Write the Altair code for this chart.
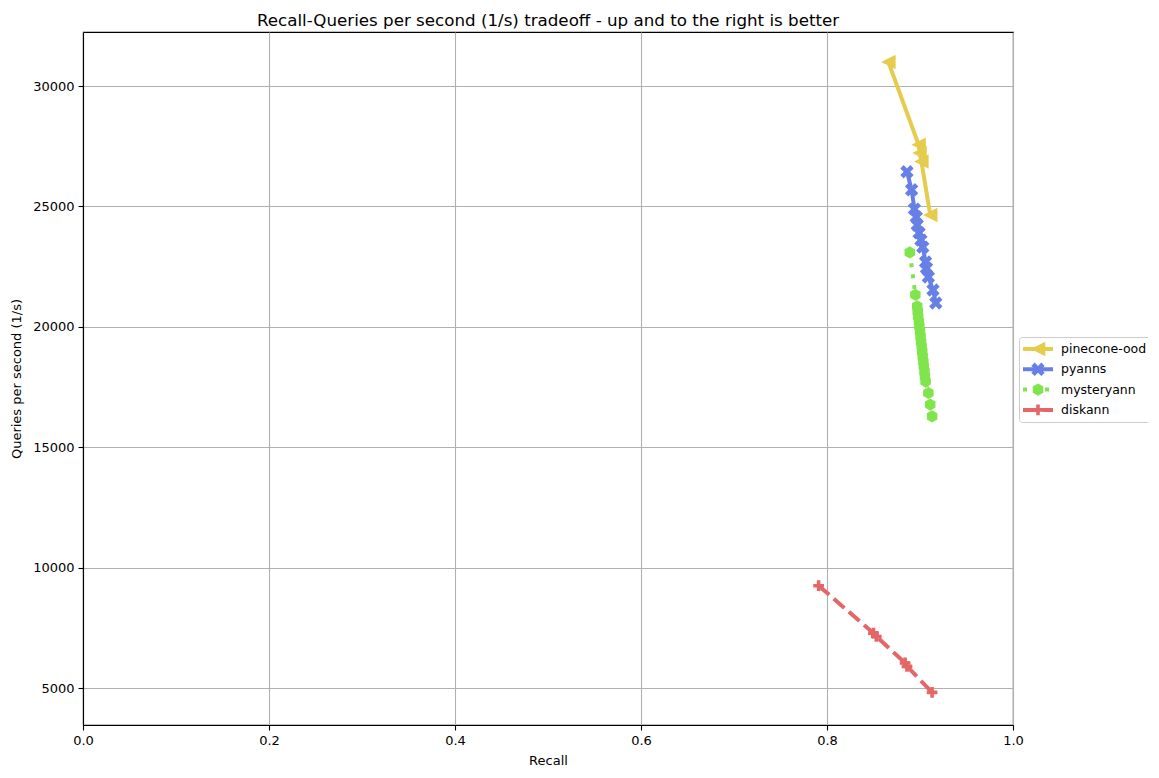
import altair as alt
import pandas as pd

series_names = ["pinecone-ood", "pyanns", "mysteryann", "diskann"]
series_colors = ["#E5CC4D", "#6680E5", "#80E54D", "#E56666"]

pinecone_recall = [0.866, 0.8985, 0.8995, 0.9015, 0.911]
pinecone_qps = [31000, 27560, 27220, 26870, 24640]

pyanns_recall = [0.886, 0.891, 0.894, 0.896, 0.897, 0.899, 0.901, 0.903, 0.906, 0.907, 0.909, 0.914, 0.917]
pyanns_qps = [26440, 25690, 24890, 24560, 24230, 23900, 23600, 23310, 22690, 22440, 22070, 21530, 20990]

mystery_recall = [0.889, 0.895, 0.897, 0.8975, 0.898, 0.8988, 0.8993, 0.9, 0.9006, 0.9011, 0.9018,
                  0.9024, 0.9029, 0.9036, 0.9041, 0.9048, 0.9053, 0.906, 0.909, 0.911, 0.913]
mystery_qps = [23090, 21330, 20850, 20640, 20430, 20220, 20020, 19810, 19600, 19390, 19190,
               18980, 18770, 18560, 18350, 18150, 17940, 17730, 17250, 16770, 16280]

diskann_recall = [0.791, 0.850, 0.853, 0.884, 0.886, 0.913]
diskann_qps = [9250, 7280, 7140, 6040, 5900, 4820]

x_ticks = [0.0, 0.2, 0.4, 0.6, 0.8, 1.0]
y_ticks = [5000, 10000, 15000, 20000, 25000, 30000]

rows = []
for name, rec, qps in [
    ("pinecone-ood", pinecone_recall, pinecone_qps),
    ("pyanns", pyanns_recall, pyanns_qps),
    ("mysteryann", mystery_recall, mystery_qps),
    ("diskann", diskann_recall, diskann_qps),
]:
    for i, (r, q) in enumerate(zip(rec, qps)):
        rows.append({"series": name, "recall": r, "qps": q, "idx": i})
df = pd.DataFrame(rows)

FONT = "DejaVu Sans"

tri_left = "M-1,0L1,-1L1,1Z"
x_filled = "M0.5,-1L1,-0.5L0.5,0L1,0.5L0.5,1L0,0.5L-0.5,1L-1,0.5L-0.5,0L-1,-0.5L-0.5,-1L0,-0.5Z"
hexagon = "M0,-1L0.866,-0.5L0.866,0.5L0,1L-0.866,0.5L-0.866,-0.5Z"
plus_filled = "M-1,-0.333H-0.333V-1H0.333V-0.333H1V0.333H0.333V1H-0.333V0.333H-1Z"

x_enc = alt.X("recall:Q", title="Recall",
              scale=alt.Scale(domain=[0, 1], nice=False, zero=False),
              axis=alt.Axis(values=x_ticks, format=".1f", labelFlush=False))
y_enc = alt.Y("qps:Q", title="Queries per second (1/s)",
              scale=alt.Scale(domain=[3464, 32243], nice=False, zero=False),
              axis=alt.Axis(values=y_ticks, format="d", labelFlush=False))

line_legend = alt.Legend(
    title=None, orient="none", legendX=936, legendY=305,
    symbolType="stroke", symbolSize=900, symbolStrokeWidth=4,
    clipHeight=16, rowPadding=4.3, labelFont=FONT, labelFontSize=12.5,
    labelColor="black", labelOffset=6, padding=4,
    strokeColor="#cccccc", fillColor="white", cornerRadius=3, zindex=1,
    symbolOffset=-2,
)
point_legend = alt.Legend(
    title=None, orient="none", legendX=936, legendY=305,
    clipHeight=16, rowPadding=4.3, labelFont=FONT, labelFontSize=12.5,
    labelOpacity=0, labelExpr="''", labelOffset=6, padding=4, symbolStrokeWidth=0,
    zindex=2, symbolOffset=7.5,
)

lines = alt.Chart(df).mark_line(strokeWidth=4, strokeCap="butt").encode(
    x=x_enc, y=y_enc,
    color=alt.Color("series:N", scale=alt.Scale(domain=series_names, range=series_colors),
                    legend=line_legend),
    strokeDash=alt.StrokeDash("series:N",
                              scale=alt.Scale(domain=series_names,
                                              range=[[1, 0], [1, 0], [4, 7], [14, 6]]),
                              legend=line_legend),
    detail="series:N",
    order="idx:Q",
)

points = alt.Chart(df).mark_point(filled=True, opacity=1, strokeWidth=0).encode(
    x=x_enc, y=y_enc,
    color=alt.Color("series:N", scale=alt.Scale(domain=series_names, range=series_colors),
                    legend=point_legend),
    shape=alt.Shape("series:N",
                    scale=alt.Scale(domain=series_names,
                                    range=[tri_left, x_filled, hexagon, plus_filled]),
                    legend=point_legend),
    size=alt.Size("series:N", scale=alt.Scale(domain=series_names, range=[210, 115, 125, 100]),
                  legend=point_legend),
)

chart = alt.layer(lines, points).resolve_scale(
    color="independent", strokeDash="independent", shape="independent", size="independent"
).properties(
    width=930, height=693,
    title=alt.TitleParams(
        text="Recall-Queries per second (1/s) tradeoff - up and to the right is better",
        font=FONT, fontSize=16.7, fontWeight="normal", color="black",
        anchor="middle", baseline="alphabetic", offset=8, dy=19,
    ),
    autosize=alt.AutoSizeParams(type="none"),
    padding={"left": 75, "top": 24, "right": 135, "bottom": 45},
).configure_view(
    stroke="black", strokeWidth=1.1
).configure_axis(
    labelFont=FONT, labelFontSize=13, labelColor="black",
    titleFont=FONT, titleFontSize=13, titleFontWeight="normal", titleColor="black",
    grid=True, gridColor="#b0b0b0", gridWidth=1.1,
    domainColor="black", domainWidth=1.1,
    tickColor="black", tickSize=5, tickWidth=1.1,
    labelPadding=4,
).configure_axisX(
    titlePadding=7,
).configure_axisY(
    titlePadding=9,
)

chart.save("out.html", embed_options={"renderer": "svg", "actions": False})
